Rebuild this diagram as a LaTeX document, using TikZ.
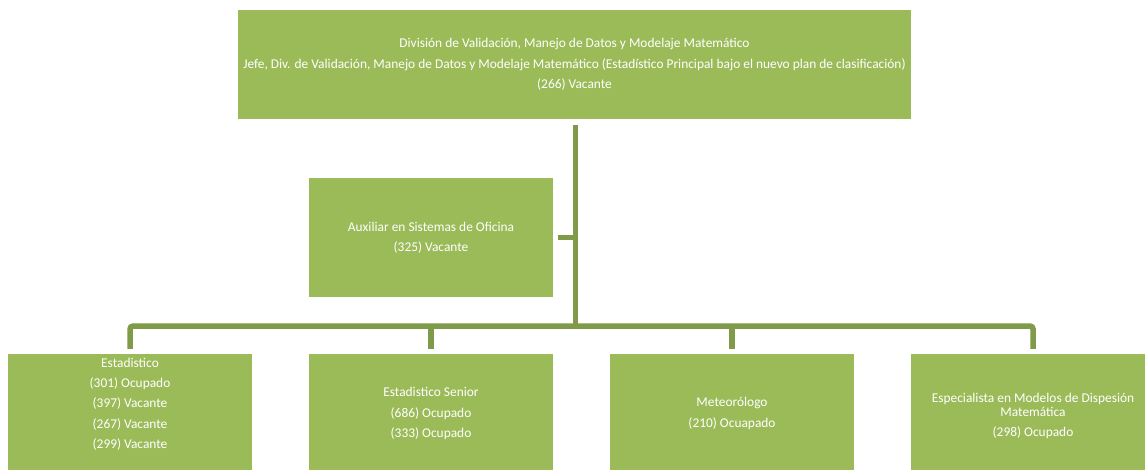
\documentclass[tikz,border=0pt]{standalone}
\usepackage{fontspec}
\setmainfont{Carlito}
\usetikzlibrary{calc}
\definecolor{boxfill}{RGB}{155,187,89}
\definecolor{linkcol}{RGB}{127,154,72}
\begin{document}
\begin{tikzpicture}[x=1pt,y=1pt,
  orgbox/.style={fill=boxfill, draw=none, minimum width=244pt, minimum height=#1, inner sep=0pt},
  orgtext/.style={text=white, align=center, font=\fontsize{13.4}{20.3}\selectfont, inner sep=0pt},
  link/.style={draw=linkcol, line width=5.5pt},
  bus/.style={draw=linkcol, line width=5.5pt, rounded corners=3pt}]
\useasboundingbox (0,0) rectangle (1145,469);

% head of division
\node[orgbox=109pt, minimum width=673pt] (head) at (574.5,404.5) {};
\node[orgtext] (headtxt) at (head.center) {Divisi\'on de Validaci\'on, Manejo de Datos y Modelaje Matem\'atico\\Jefe, Div. de Validaci\'on, Manejo de Datos y Modelaje Matem\'atico (Estad\'istico Principal bajo el nuevo plan de clasificaci\'on)\\(266) Vacante};

% assistant
\node[orgbox=119pt] (aux) at (431,231.5) {};
\node[orgtext] (auxtxt) at (aux.center) {Auxiliar en Sistemas de Oficina\\(325) Vacante};

% subordinate positions (they run past the lower edge)
\node[orgbox=118pt] (est) at (130,56) {};
\node[orgbox=118pt] (sen) at (431,56) {};
\node[orgbox=118pt] (met) at (732,56) {};
\node[orgbox=118pt] (esp) at (1033,56) {};

\node[orgtext] (esttxt) at (130,65) {Estadistico\\(301) Ocupado\\(397) Vacante\\(267) Vacante\\(299) Vacante};
\node[orgtext] (sentxt) at (431,55.5) {Estadistico Senior\\(686) Ocupado\\(333) Ocupado};
\node[orgtext] (mettxt) at (732,55.5) {Meteor\'ologo\\(210) Ocuapado};
\node[orgtext] (esptxt) at (1033,53) {Especialista en Modelos de Dispesi\'on\\[-7pt]Matem\'atica\\(298) Ocupado};

% connectors
\coordinate (trunktop) at ($(head.south)+(1,-6)$);
\coordinate (bus) at (0,143);
\draw[link] (trunktop) -- (trunktop |- bus);
\coordinate (auxtap) at ($(aux.east)+(5,0)$);
\draw[link] (auxtap) -- (trunktop |- auxtap);
\draw[bus] ($(est.north)+(0,5)$) -- (est.north |- bus) -- (esp.north |- bus) -- ($(esp.north)+(0,5)$);
\draw[link] ($(sen.north)+(0,5)$) -- (sen.north |- bus);
\draw[link] ($(met.north)+(0,5)$) -- (met.north |- bus);
\end{tikzpicture}
\end{document}
